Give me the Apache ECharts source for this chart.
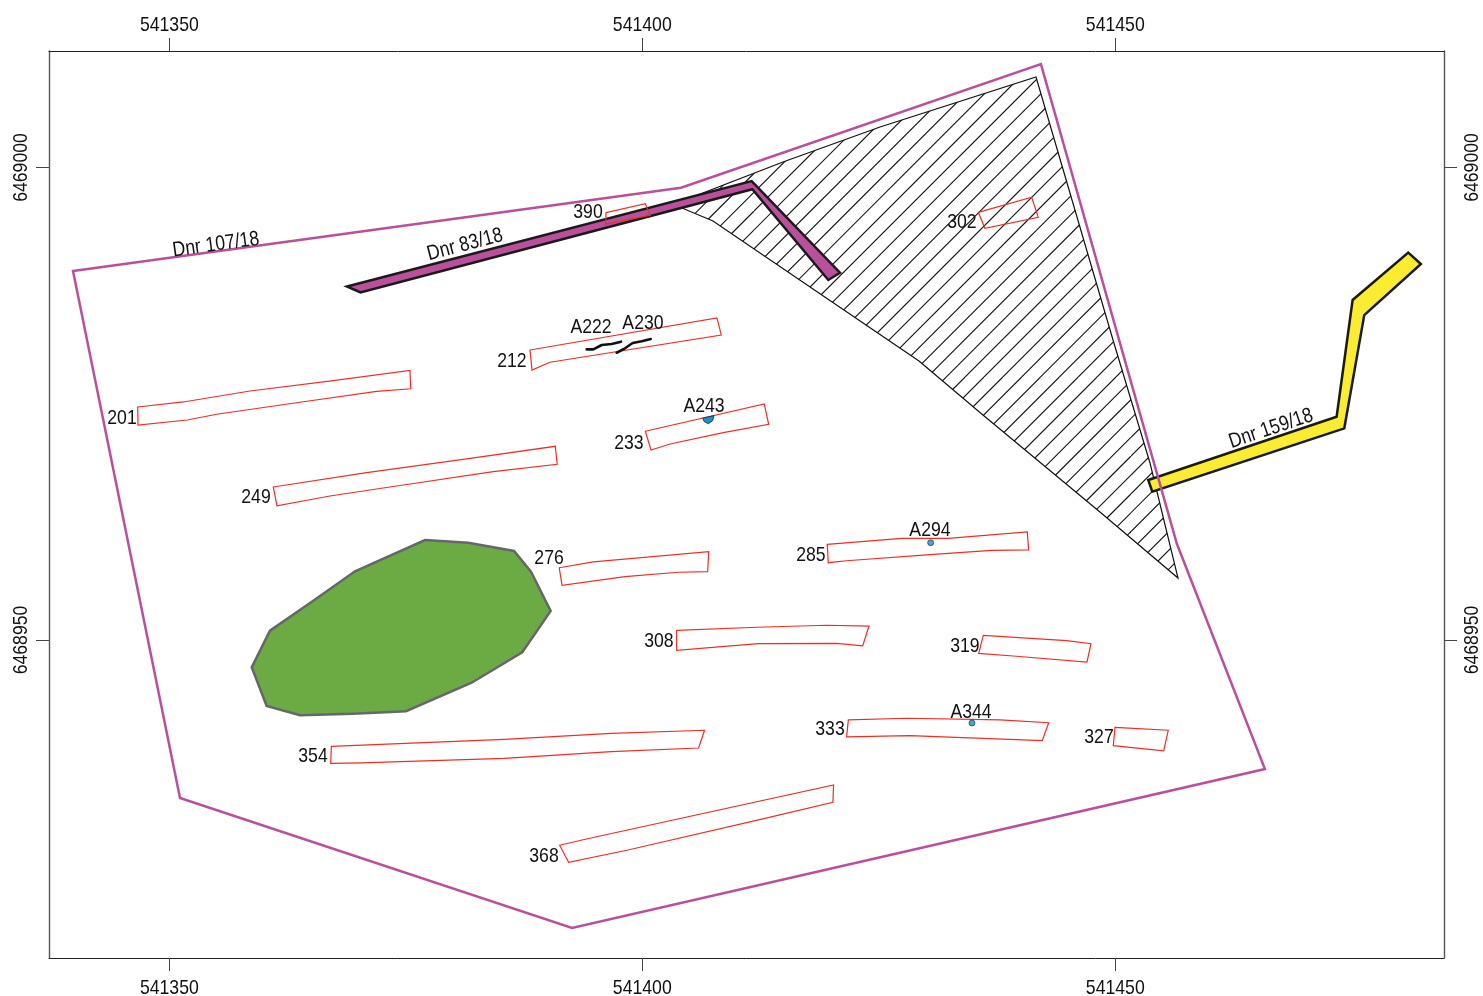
<!DOCTYPE html>
<html>
<head>
<meta charset="utf-8">
<style>html,body{margin:0;padding:0;background:#fff}#chart{width:1483px;height:996px}</style>
<script src="https://cdn.jsdelivr.net/npm/echarts@6/dist/echarts.min.js"></script>
</head>
<body>
<div id="chart"></div>
<script>
const xTicks = [541350, 541400, 541450];
const yTicks = [6468950, 6469000];

const boundary107 = [[541339.82,6468989.05],[541404.09,6468997.86],[541442.14,6469010.95],[541456.52,6468960.16],[541465.82,6468936.35],[541392.57,6468919.53],[541351.13,6468933.28]];
const hatchedArea = [[541441.62,6469009.58],[541449.76,6468981.75],[541453.67,6468968.73],[541456.63,6468956.56],[541448.38,6468963.55],[541436.01,6468973.81],[541429.25,6468979.53],[541407.47,6468994.34],[541404.19,6468995.72],[541404.51,6468996.56],[541414.87,6469000.58],[541425.13,6469004.29]];
const pipe83 = [[541368.78,6468987.41],[541411.56,6468998.57],[541420.90,6468988.87],[541419.66,6468988.10],[541411.63,6468997.70],[541370.21,6468986.78]];
const pipe159 = [[541453.49,6468966.93],[541473.40,6468973.63],[541475.09,6468985.98],[541480.97,6468990.99],[541482.31,6468989.79],[541476.32,6468984.39],[541474.21,6468972.40],[541453.91,6468965.70]];
const greenArea = [[541377.03,6468960.58],[541381.60,6468960.30],[541386.44,6468959.42],[541388.23,6468957.23],[541390.31,6468953.07],[541387.31,6468948.70],[541381.96,6468945.48],[541375.02,6468942.46],[541369.45,6468942.20],[541363.81,6468942.03],[541360.29,6468943.02],[541358.71,6468947.11],[541360.64,6468950.99],[541365.22,6468954.16],[541369.63,6468957.27]];

const t201 = [[541346.66,6468974.66],[541351.48,6468975.19],[541358.53,6468976.35],[541367.33,6468977.44],[541375.44,6468978.54],[541375.52,6468976.59],[541371.92,6468976.32],[541363.81,6468975.16],[541355.01,6468973.89],[541351.90,6468973.28],[541346.69,6468972.75]];
const t249 = [[541360.99,6468966.19],[541370.86,6468967.71],[541381.44,6468969.16],[541390.80,6468970.50],[541391.01,6468968.59],[541384.25,6468967.81],[541374.38,6468966.35],[541366.98,6468965.24],[541361.38,6468964.21]];
const t212 = [[541388.13,6468980.69],[541407.89,6468984.08],[541408.35,6468982.28],[541390.24,6468979.39],[541388.34,6468978.57]];
const t233 = [[541400.32,6468972.09],[541412.89,6468974.98],[541413.36,6468972.83],[541408.56,6468971.94],[541402.93,6468970.74],[541400.92,6468970.11]];
const t390 = [[541396.16,6468995.22],[541400.32,6468996.17],[541400.84,6468994.94],[541396.13,6468994.02]];
const t302 = [[541435.52,6468995.26],[541441.16,6468996.85],[541441.86,6468994.73],[541436.22,6468993.57]];
const t276 = [[541391.22,6468957.65],[541394.82,6468958.26],[541407.02,6468959.35],[541406.91,6468957.23],[541403.80,6468957.17],[541398.17,6468956.70],[541391.51,6468955.79]];
const t285 = [[541419.55,6468960.13],[541427.42,6468960.76],[541432.35,6468960.76],[541440.70,6468961.43],[541440.84,6468959.53],[541436.93,6468959.49],[541430.41,6468959.03],[541421.60,6468958.39],[541419.66,6468958.18]];
const t308 = [[541403.63,6468951.03],[541412.09,6468951.35],[541419.49,6468951.56],[541423.96,6468951.48],[541423.30,6468949.37],[541420.55,6468949.65],[541412.26,6468949.61],[541403.63,6468948.91]];
const t319 = [[541436.05,6468950.50],[541444.86,6468949.93],[541447.43,6468949.61],[541447.01,6468947.67],[541439.22,6468948.31],[541435.56,6468948.59]];
const t333 = [[541421.78,6468941.54],[541427.95,6468941.72],[541437.81,6468941.54],[541442.96,6468941.25],[541442.28,6468939.35],[541428.30,6468939.88],[541421.60,6468939.74]];
const t327 = [[541449.97,6468940.76],[541455.60,6468940.45],[541455.12,6468938.26],[541449.79,6468938.82]];
const t354 = [[541367.13,6468938.75],[541385.41,6468939.49],[541396.73,6468940.13],[541406.58,6468940.45],[541405.95,6468938.57],[541396.73,6468938.18],[541385.41,6468937.48],[541370.30,6468936.99],[541367.06,6468936.95]];
const t368 = [[541391.26,6468928.28],[541394.09,6468928.94],[541420.22,6468934.66],[541420.15,6468932.83],[541412.97,6468931.13],[541398.49,6468927.78],[541392.21,6468926.48]];

const lineA222 = [[541394.12,6468980.76],[541394.82,6468980.76],[541395.71,6468981.22],[541396.76,6468981.32],[541397.75,6468981.57]];
const lineA230 = [[541397.29,6468980.40],[541398.17,6468980.87],[541398.98,6468981.43],[541399.94,6468981.61],[541400.89,6468981.85]];
const blobA243 = [[541406.38,6468973.49],[541407.58,6468973.74],[541407.44,6468973.21],[541406.98,6468972.89],[541406.55,6468973.10]];
const dots = [[541430.48,6468960.30],[541434.85,6468941.22]];

const labelText = ['Dnr 107/18','Dnr 83/18','Dnr 159/18','390','A222','A230','212','201','A243','233','249','276','302','285','A294','308','319','A344','333','327','354','368'];
const labelX = [541354.93,541381.26,541466.46,541394.26,541394.58,541400.07,541386.22,541345.00,541406.52,541398.59,541359.16,541390.14,541433.79,541417.83,541430.41,541401.76,541434.11,541434.75,541419.84,541448.28,541365.19,541389.61];
const labelY = [6468991.91,6468991.91,6468972.44,6468995.40,6468983.23,6468983.65,6468979.63,6468973.60,6468974.87,6468970.95,6468965.24,6468958.78,6468994.34,6468959.10,6468961.75,6468950.00,6468949.47,6468942.49,6468940.69,6468939.84,6468937.83,6468927.25];
const labelAngle = [7.8,14.9,18.6,0,0,0,0,0,0,0,0,0,0,0,0,0,0,0,0,0,0,0];

const X_MIN = 541337.28, X_MAX = 541484.75, Y_MIN = 6468916.35, Y_MAX = 6469012.33;
const FONT = '"Liberation Sans",Arial,sans-serif';
const FS = 21, SQUEEZE = 0.84, INK = '#111';

function hatchPattern() {
  const size = 377, n = 20, step = size / n, phase = 3.75;
  const c = document.createElement('canvas');
  c.width = c.height = size;
  const g = c.getContext('2d');
  g.strokeStyle = '#111';
  g.lineWidth = 1.1;
  for (let k = -1; k <= 2 * n + 1; k++) {
    const v = k * step + phase;
    g.beginPath(); g.moveTo(v, 0); g.lineTo(0, v); g.stroke();
  }
  return { image: c, repeat: 'repeat' };
}

function polySeries(name, polys, style, closed) {
  return {
    type: 'custom', name, coordinateSystem: 'cartesian2d', silent: true, animation: false,
    data: polys.map(p => p[0]),
    renderItem(params, api) {
      const pts = polys[params.dataIndex].map(p => api.coord(p));
      return closed === false
        ? { type: 'polyline', shape: { points: pts }, style: Object.assign({ fill: null }, style) }
        : { type: 'polygon', shape: { points: pts }, style };
    }
  };
}
function textEl(text, x, y, rotation) {
  return { type: 'text', x, y, rotation, scaleX: SQUEEZE, scaleY: 1,
    style: { text, textAlign: 'center', textVerticalAlign: 'middle', fontFamily: FONT, fontSize: FS, fill: INK } };
}

const sideLine = { show: true, onZero: false, lineStyle: { color: '#555', width: 1.4 } };
const capLine = { show: true, onZero: false, lineStyle: { color: '#222', width: 1 } };
const xBase = {
  type: 'value', min: X_MIN, max: X_MAX, scale: true, splitLine: { show: false }, axisLine: capLine,
  axisTick: { show: true, length: 13, customValues: xTicks, lineStyle: { color: '#444', width: 1 } },
  axisLabel: { show: false }
};
const yBase = {
  type: 'value', min: Y_MIN, max: Y_MAX, scale: true, splitLine: { show: false }, axisLine: sideLine,
  axisTick: { show: true, length: 13, customValues: yTicks, lineStyle: { color: '#444', width: 1 } },
  axisLabel: { show: false }
};

const chart = echarts.init(document.getElementById('chart'), null, { renderer: 'canvas' });
chart.setOption({
  animation: false,
  backgroundColor: '#fff',
  grid: { left: 49, top: 51, width: 1395, height: 907, containLabel: false },
  xAxis: [Object.assign({}, xBase, { position: 'bottom' }), Object.assign({}, xBase, { position: 'top' })],
  yAxis: [Object.assign({}, yBase, { position: 'left' }), Object.assign({}, yBase, { position: 'right' })],
  series: [
    polySeries('hatched', [hatchedArea], { fill: hatchPattern(), stroke: '#111', lineWidth: 1.2 }),
    polySeries('green', [greenArea], { fill: '#6CAB43', stroke: '#66676B', lineWidth: 2.5 }),
    polySeries('Dnr 83/18', [pipe83], { fill: '#BA4F9C', stroke: '#1a1a1a', lineWidth: 2.5 }),
    polySeries('Dnr 159/18', [pipe159], { fill: '#F9EC31', stroke: '#1a1a1a', lineWidth: 2.5 }),
    polySeries('Dnr 107/18', [boundary107], { fill: 'rgba(0,0,0,0)', stroke: '#BA4F9C', lineWidth: 2.5 }),
    polySeries('trenches', [t201,t249,t212,t233,t390,t302,t276,t285,t308,t319,t333,t327,t354,t368], { fill: 'rgba(0,0,0,0)', stroke: '#EE2E24', lineWidth: 1.2 }),
    polySeries('features', [lineA222, lineA230], { stroke: '#111', lineWidth: 2.6, lineCap: 'round', lineJoin: 'round' }, false),
    polySeries('A243', [blobA243], { fill: '#1B8FC9', stroke: '#123', lineWidth: 0.8 }),
    { type: 'scatter', silent: true, animation: false, data: dots, symbol: 'circle', symbolSize: 6,
      itemStyle: { color: '#1B8FC9', borderColor: '#123', borderWidth: 0.8 } },
    {
      type: 'custom', silent: true, animation: false, coordinateSystem: 'cartesian2d',
      data: labelText.map((t, i) => [labelX[i], labelY[i]]),
      renderItem(params, api) {
        const i = params.dataIndex, c = api.coord([labelX[i], labelY[i]]);
        return textEl(labelText[i], c[0], c[1] + 0.8, labelAngle[i] * Math.PI / 180);
      }
    },
    {
      type: 'custom', name: 'x tick labels', silent: true, animation: false, coordinateSystem: 'cartesian2d', clip: false,
      data: xTicks.map(v => [v, Y_MIN]),
      renderItem(params, api) {
        const v = xTicks[params.dataIndex];
        return { type: 'group', children: [
          textEl(String(v), api.coord([v, Y_MIN])[0], api.coord([v, Y_MIN])[1] + 30, 0),
          textEl(String(v), api.coord([v, Y_MAX])[0], api.coord([v, Y_MAX])[1] - 26.2, 0)
        ] };
      }
    },
    {
      type: 'custom', name: 'y tick labels', silent: true, animation: false, coordinateSystem: 'cartesian2d', clip: false,
      data: yTicks.map(v => [X_MIN, v]),
      renderItem(params, api) {
        const v = yTicks[params.dataIndex], l = api.coord([X_MIN, v]), r = api.coord([X_MAX, v]);
        return { type: 'group', children: [
          textEl(String(v), l[0] - 28, l[1], Math.PI / 2),
          textEl(String(v), r[0] + 28, r[1], Math.PI / 2)
        ] };
      }
    }
  ]
});
</script>
</body>
</html>
